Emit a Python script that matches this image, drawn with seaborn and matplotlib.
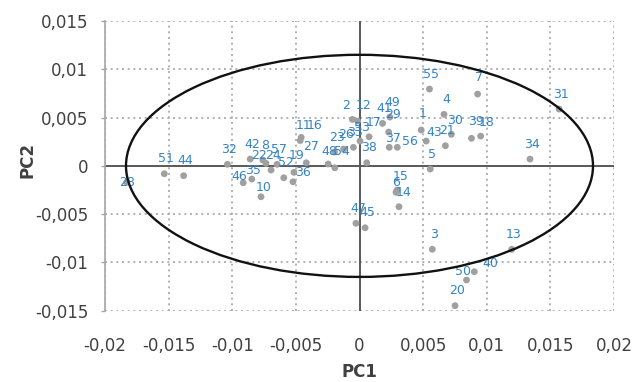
import matplotlib
matplotlib.use("Agg")
import matplotlib.pyplot as plt
import matplotlib.ticker as mticker
from matplotlib.patches import Ellipse
import seaborn as sns
import pandas as pd

# ---- data (PC scores) ----
labels = ["1", "2", "3", "4", "5", "6", "7", "8", "10", "11", "12", "13", "14", "15",
          "16", "17", "18", "19", "20", "21", "22", "23", "24", "26", "27", "28", "29",
          "30", "31", "32", "33", "34", "35", "36", "37", "38", "39", "40", "41", "42",
          "43", "44", "45", "46", "47", "48", "49", "50", "51", "52", "53", "54", "55",
          "56", "57"]
pc1 = [4.85, -0.56, 5.72, 6.64, 5.56, 2.87, 9.28, -7.59, -7.74, -4.58, -0.14, 11.97, 3.10, 2.95,
       -4.66, 0.75, 9.52, -5.15, 7.51, 6.75, -7.35, -1.96, -6.95, -1.25, -4.18, -18.30, 2.29,
       7.22, 15.69, -10.38, -0.48, 13.40, -8.46, -5.23, 2.34, 0.57, 8.80, 9.02, 1.81, -8.59,
       5.24, -13.82, 0.44, -9.14, -0.28, -2.46, 2.39, 8.41, -15.34, -5.95, 0.04, -1.94, 5.50,
       2.97, -6.48]
pc2 = [3.71, 4.81, -8.64, 5.33, -0.33, -2.74, 7.43, 0.60, -3.20, 2.95, 4.64, -8.64, -4.23, -2.51,
       2.62, 3.01, 3.08, -0.67, -14.48, 2.08, 0.26, 1.43, -0.43, 1.74, 0.32, -1.70, 3.50,
       3.26, 5.88, 0.16, 1.92, 0.70, -1.37, -1.65, 1.92, 0.32, 2.85, -10.96, 4.40, 0.70,
       2.57, -1.02, -6.41, -1.75, -5.95, 0.19, 5.05, -11.82, -0.82, -1.23, 2.57, -0.20, 7.95,
       1.92, 0.16]
pc1 = [v / 1000 for v in pc1]
pc2 = [v / 1000 for v in pc2]

x_ticks = [-0.02, -0.015, -0.01, -0.005, 0, 0.005, 0.01, 0.015, 0.02]
y_ticks = [-0.015, -0.01, -0.005, 0, 0.005, 0.01, 0.015]

# confidence ellipse semi-axes
ELL_A = 0.01835
ELL_B = 0.0115

# label placement (pixels from the point); default above the point
DEFAULT_OFF = (2, 15)
label_off = {"28": (0, 0), "46": (-4, 6), "35": (1, 9), "10": (3, 9), "22": (-7, 8),
             "19": (3, 17), "36": (10, 9), "11": (2, 12), "16": (14, 15), "27": (5, 16),
             "48": (1, 13), "54": (7, 16), "53": (2, 14), "17": (5, 14), "2": (-6, 14),
             "12": (6, 16), "29": (4, 18), "37": (4, 9), "56": (13, 6), "43": (8, 9),
             "1": (1, 17), "30": (4, 14), "39": (4, 17), "18": (6, 14), "40": (16, 8),
             "50": (-4, 8), "6": (0, 10), "15": (4, 14), "14": (5, 14), "7": (1, 17)}

df = pd.DataFrame({"label": labels, "PC1": pc1, "PC2": pc2})

sns.set_theme(style="white")
plt.rcParams["font.family"] = ["DejaVu Sans"]

fig = plt.figure(figsize=(6.38, 3.82), dpi=100)
ax = fig.add_axes([105 / 638, 1 - 310.7 / 382, 509 / 638, 289.7 / 382])

grid_col = "#A6A6A6"
sns.scatterplot(data=df, x="PC1", y="PC2", ax=ax, color="#A0A0A0", s=24,
                edgecolor="none", zorder=3, legend=False)

for lab, x, y in zip(df["label"], df["PC1"], df["PC2"]):
    dx, dy = label_off.get(lab, DEFAULT_OFF)
    ax.annotate(lab, (x, y), xytext=(dx, dy), textcoords="offset pixels",
                ha="center", va="center", fontsize=9, color="#3283C8", zorder=4)

ax.add_patch(Ellipse((0, 0), 2 * ELL_A, 2 * ELL_B, fill=False, ec="#111111",
                     lw=1.7, zorder=5))

ax.set_xlim(x_ticks[0], x_ticks[-1])
ax.set_ylim(y_ticks[0], y_ticks[-1])
ax.set_xticks(x_ticks)
ax.set_yticks(y_ticks)

fmt = mticker.FuncFormatter(lambda v, p: ("%g" % round(v, 5)).replace(".", ","))
ax.xaxis.set_major_formatter(fmt)
ax.yaxis.set_major_formatter(fmt)

ax.grid(True, color=grid_col, linestyle=(0, (1.2, 2.2)), linewidth=1.2, zorder=0)
ax.axhline(0, color="#595959", lw=1.4, zorder=2)
ax.axvline(0, color="#595959", lw=1.4, zorder=2)

for s in ["top", "right", "bottom"]:
    ax.spines[s].set_visible(False)
ax.spines["left"].set_color(grid_col)
ax.spines["left"].set_linewidth(1.2)

ax.tick_params(axis="x", length=0, pad=19, labelsize=12, labelcolor="#404040")
ax.tick_params(axis="y", left=True, length=3, width=1, color=grid_col, pad=9,
               labelsize=12, labelcolor="#404040")

ax.set_xlabel("PC1", fontsize=12, fontweight="bold", color="#404040")
ax.set_ylabel("PC2", fontsize=12, fontweight="bold", color="#404040")
ax.xaxis.set_label_coords(0.5, -0.182)
ax.yaxis.set_label_coords(-0.135, 0.52)

fig.savefig("out.png", dpi=100)
